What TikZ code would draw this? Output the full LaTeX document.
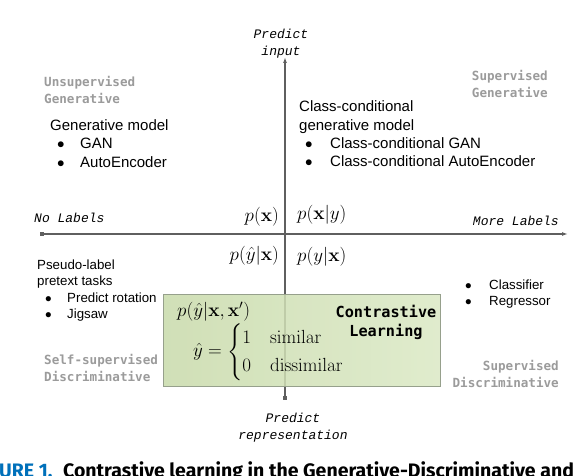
\RequirePackage{fix-cm}
\documentclass[tikz,border=0pt]{standalone}
\usepackage{amsmath}
\usepackage{amssymb}
\usepackage[no-math]{fontspec}
\setmainfont{Liberation Sans}
\newfontfamily\monofont{DejaVu Sans Mono}
\newfontfamily\itmono{Liberation Mono}
\newfontfamily\capfont{Fira Sans}
\usetikzlibrary{calc, positioning}
\usetikzlibrary{arrows.meta}

\definecolor{axisgray}{RGB}{95,95,95}
\definecolor{labgray}{RGB}{155,155,155}
\definecolor{boxgreen}{RGB}{200,218,170}
\definecolor{boxlight}{RGB}{218,232,196}
\definecolor{boxedge}{RGB}{150,160,140}
\definecolor{capblue}{RGB}{0,112,186}

\begin{document}
\begin{tikzpicture}[x=1pt, y=-1pt,
  axis/.style={draw=axisgray, line width=1.3pt, {Square[length=4pt,width=4pt]}-{Latex[length=6pt,width=4pt]}},
  quadlab/.style={font=\monofont\bfseries\fontsize{12.6}{17}\selectfont, text=labgray, inner sep=0},
  dirlab/.style={font=\itmono\itshape\fontsize{13}{17}\selectfont, inner sep=0, align=center},
  body/.style={font=\fontsize{15}{18.3}\selectfont, inner sep=0, align=left},
  smallbody/.style={font=\fontsize{13.3}{16.4}\selectfont, inner sep=0, align=left},
  prob/.style={font=\fontsize{19}{23}\selectfont, inner sep=0},
  clbox/.style={left color=boxgreen, right color=boxlight, fill opacity=0.85, draw=boxedge, line width=0.8pt}]
\def\bul#1{\makebox[#1][l]{$\bullet$}}
\useasboundingbox (0,0) rectangle (584,476);
\coordinate (T) at (285,57);
\coordinate (B) at (285,400);
\coordinate (L) at (40,234);
\coordinate (R) at (568,234);
\draw[axis] (B) -- (T);
\draw[axis] (L) -- (R);
\draw[clbox] (163,294) rectangle (440,386);
\node[dirlab] (top) at (281,44) {Predict\\input};
\node[dirlab] (bottom) at (293,428) {Predict\\representation};
\node[dirlab, anchor=west] (left) at (34,218) {No Labels};
\node[dirlab, anchor=east] (right) at (559,221) {More Labels};
\node[quadlab, align=left, anchor=west] (ug) at (44,89.5) {Unsupervised\\Generative};
\node[quadlab, align=right, anchor=east] (sg) at (548,84) {Supervised\\Generative};
\node[quadlab, align=left, anchor=west] (sd) at (44,367.5) {Self-supervised\\Discriminative};
\node[quadlab, align=right, anchor=east] (supd) at (559,373.5) {Supervised\\Discriminative};
\node[body, anchor=west] (gen) at (50,143.5) {Generative model\\
  \hspace*{7pt}\bul{23pt}GAN\\
  \hspace*{7pt}\bul{23pt}AutoEncoder};
\node[body, anchor=west] (ccgen) at (299,134) {Class-conditional\\generative model\\
  \hspace*{6pt}\bul{25pt}Class-conditional GAN\\
  \hspace*{6pt}\bul{25pt}Class-conditional AutoEncoder};
\node[smallbody, anchor=west] (pseudo) at (37,290.5) {Pseudo-label\\pretext tasks\\
  \hspace*{8pt}\bul{22pt}Predict rotation\\
  \hspace*{8pt}\bul{22pt}Jigsaw};
\node[smallbody, anchor=west] (clf) at (465,294) {\bul{24pt}Classifier\\\bul{24pt}Regressor};
\node[prob, anchor=east] (px) at (279,217) {$p(\mathbf{x})$};
\node[prob, anchor=west] (pxy) at (297,215) {$p(\mathbf{x}|y)$};
\node[prob, anchor=east] (pyhx) at (279,256) {$p(\hat{y}|\mathbf{x})$};
\node[prob, anchor=west] (pyx) at (297,257) {$p(y|\mathbf{x})$};
\node[prob, anchor=west] (pair) at (177,312) {$p(\hat{y}|\mathbf{x},\mathbf{x}')$};
\node[prob, anchor=west] (yhat) at (193,352) {$\hat{y}=\begin{cases}1 & \mathrm{similar}\\ 0 & \mathrm{dissimilar}\end{cases}$};
\node[font=\monofont\bfseries\fontsize{15.2}{19}\selectfont, align=center, inner sep=0] (cl) at (386,322) {Contrastive\\Learning};
\clip (0,0) rectangle (584,476);
\node[font=\capfont\bfseries\fontsize{19.5}{24}\selectfont, text=capblue, anchor=base west, inner sep=0] (fig) at (-1,477) {URE 1.};
\node[font=\capfont\bfseries\fontsize{19.5}{24}\selectfont, anchor=base west, inner sep=0] (cap) at (63,477) {Contrastive learning in the Generative-Discriminative and};
\end{tikzpicture}
\end{document}
